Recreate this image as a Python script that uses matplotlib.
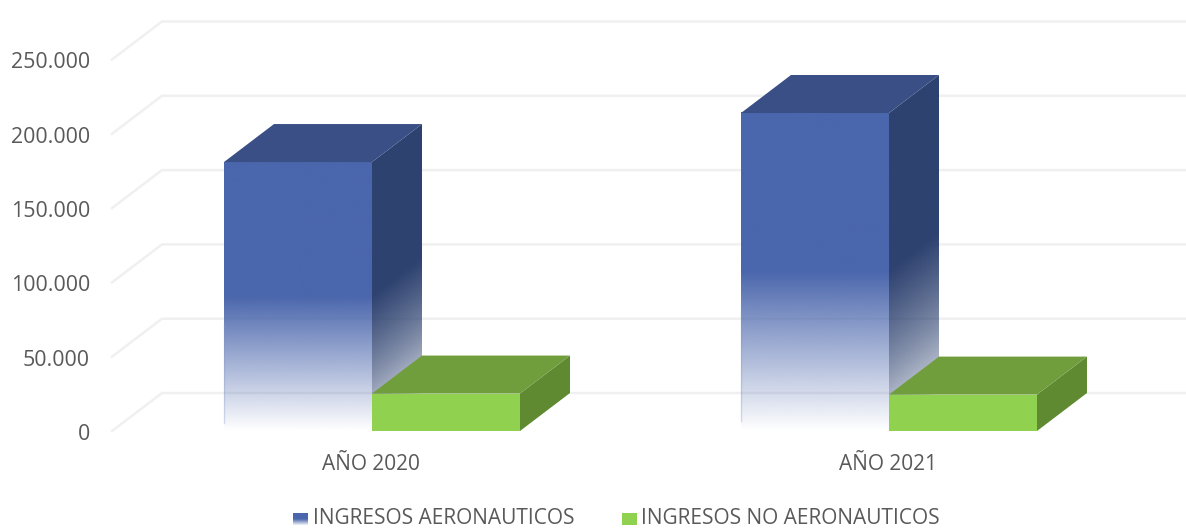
import numpy as np
import matplotlib
matplotlib.use('Agg')
from matplotlib import pyplot as plt
from matplotlib.patches import Polygon

plt.rcParams['font.family'] = ['Open Sans', 'DejaVu Sans']

categories = ['AÑO 2020', 'AÑO 2021']
aeronauticos = [181000, 214000]
no_aeronauticos = [25200, 24500]
yticks = [0, 50000, 100000, 150000, 200000, 250000]
ytick_labels = ['0', '50.000', '100.000', '150.000', '200.000', '250.000']
legend_labels = ['INGRESOS AERONAUTICOS', 'INGRESOS NO AERONAUTICOS']

W, H = 1186, 528
px_per_val = 74.3 / 50000   # pixels per unit of value
px_per_cat = 517            # pixels between categories
x0_px, y0_px = 372, 431     # where category 0 / value 0 land
bar_w = 148 / px_per_cat
depth_x = 50 / px_per_cat
depth_y = 38 / px_per_val

BLUE, BLUE_TOP, BLUE_SIDE = '#4A66AC', '#3A4F85', '#2E4270'
GREEN, GREEN_TOP, GREEN_SIDE = '#90D24F', '#709E3C', '#5F8A31'
TEXT = '#595959'
GRID = '#F0F0F0'

fig = plt.figure(figsize=(W / 100, H / 100), dpi=100)
ax = fig.add_axes([0, 0, 1, 1])
ax.set_xlim(-x0_px / px_per_cat, (W - x0_px) / px_per_cat)
ax.set_ylim(-(H - y0_px) / px_per_val, y0_px / px_per_val)
ax.axis('off')

# grid: wall line plus short floor line running to the front
left = ax.get_xlim()[0] + 112 / px_per_cat
for v, lab in zip(yticks, ytick_labels):
    ax.plot([left, left + depth_x, ax.get_xlim()[1]], [v, v + depth_y, v + depth_y],
            color=GRID, lw=1.8, zorder=1, solid_joinstyle='miter')
    ax.text(left - 22 / px_per_cat, v - 1 / px_per_val, lab, ha='right', va='center_baseline',
            color=TEXT, fontsize=15.4)


def rgba(color, alpha):
    img = np.zeros(alpha.shape + (4,))
    img[..., :3] = matplotlib.colors.to_rgb(color)
    img[..., 3] = alpha
    return img


def blue_bar(x, v):
    # front face, fades out over the lower half
    f = np.linspace(1, 0, 300)[:, None]
    ax.imshow(rgba(BLUE, np.clip(f / 0.5, 0, 1)), extent=[x - bar_w, x, 0, v],
              aspect='auto', interpolation='bilinear', zorder=3)
    ax.plot([x - bar_w, x - bar_w], [v * 0.03, v * 0.4], color='#7F93C8', lw=1, alpha=0.3, zorder=4)

    # side face, same fade measured along the depth direction so it looks diagonal
    xs = np.linspace(x, x + depth_x, 120)
    ys = np.linspace(v + depth_y, 0, 500)
    xx, yy = np.meshgrid(xs, ys)
    h = yy - (xx - x) / depth_x * depth_y
    alpha = np.clip(h / v / 0.5, 0, 1) ** 0.6
    im = ax.imshow(rgba(BLUE_SIDE, alpha), extent=[x, x + depth_x, 0, v + depth_y],
                   aspect='auto', interpolation='bilinear', zorder=3)
    side = Polygon([(x, 0), (x + depth_x, depth_y), (x + depth_x, v + depth_y), (x, v)],
                   transform=ax.transData, fc='none', ec='none')
    ax.add_patch(side)
    im.set_clip_path(side)

    ax.add_patch(Polygon([(x - bar_w, v), (x, v), (x + depth_x, v + depth_y),
                          (x - bar_w + depth_x, v + depth_y)], fc=BLUE_TOP, ec='none', zorder=4))


def green_bar(x, v):
    ax.add_patch(Polygon([(x + bar_w, 0), (x + bar_w + depth_x, depth_y),
                          (x + bar_w + depth_x, v + depth_y), (x + bar_w, v)],
                         fc=GREEN_SIDE, ec='none', zorder=5))
    ax.add_patch(Polygon([(x, v), (x + bar_w, v), (x + bar_w + depth_x, v + depth_y),
                          (x + depth_x, v + depth_y)], fc=GREEN_TOP, ec='none', zorder=5))
    ax.add_patch(Polygon([(x, 0), (x + bar_w, 0), (x + bar_w, v), (x, v)],
                         fc=GREEN, ec='none', zorder=6))


for i, cat in enumerate(categories):
    blue_bar(i, aeronauticos[i])
    green_bar(i, no_aeronauticos[i])
    ax.text(i - 1 / px_per_cat, -33 / px_per_val, cat, ha='center', va='center', color=TEXT, fontsize=15)

ax.set_xlim(-x0_px / px_per_cat, (W - x0_px) / px_per_cat)
ax.set_ylim(-(H - y0_px) / px_per_val, y0_px / px_per_val)

# legend
leg1 = fig.add_axes([293 / W, 1 - 525 / H, 15 / W, 12 / H])
leg1.imshow(rgba(BLUE, np.clip(np.linspace(1.9, 0.1, 30)[:, None], 0, 1)), aspect='auto')
leg1.axis('off')
leg2 = fig.add_axes([622 / W, 1 - 525 / H, 15 / W, 12 / H])
leg2.set_facecolor(GREEN)
leg2.set_xticks([])
leg2.set_yticks([])
for s in leg2.spines.values():
    s.set_visible(False)
fig.text(313 / W, 1 - 519 / H, legend_labels[0], va='center', color=TEXT, fontsize=15)
fig.text(641 / W, 1 - 519 / H, legend_labels[1], va='center', color=TEXT, fontsize=15)

fig.savefig('out.png', dpi=100)
